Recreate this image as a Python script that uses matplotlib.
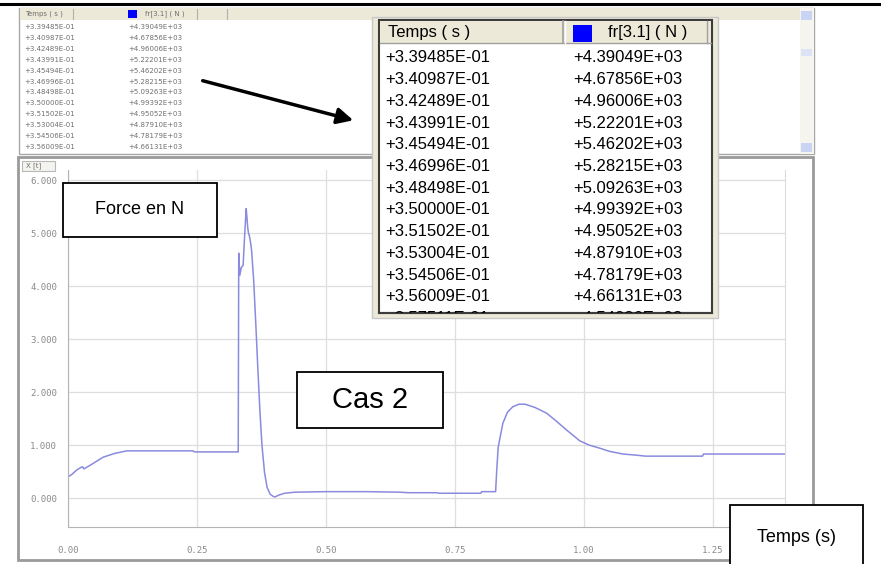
import matplotlib.pyplot as plt
from matplotlib.patches import Rectangle

temps = [0.000, 0.008, 0.017, 0.024, 0.028, 0.031, 0.045, 0.068, 0.090, 0.114,
         0.160, 0.242, 0.246, 0.329, 0.330, 0.331, 0.333, 0.336,
         0.3395, 0.3410, 0.3425, 0.3440, 0.3455, 0.3470, 0.3485, 0.3500,
         0.3515, 0.3530, 0.3545, 0.3560,
         0.360, 0.364, 0.368, 0.372, 0.376, 0.381, 0.386, 0.392, 0.398, 0.401,
         0.410, 0.420, 0.440, 0.500, 0.580, 0.643, 0.660, 0.715, 0.720, 0.800,
         0.802, 0.829, 0.831, 0.834, 0.843, 0.852, 0.862, 0.874, 0.886, 0.905,
         0.928, 0.948, 0.967, 0.992, 1.010, 1.031, 1.050, 1.076, 1.100, 1.120,
         1.230, 1.232, 1.390]
force = [0.40, 0.45, 0.53, 0.57, 0.59, 0.55, 0.63, 0.77, 0.84, 0.89,
         0.89, 0.89, 0.87, 0.87, 0.87, 4.62, 4.20, 4.35,
         4.390, 4.679, 4.960, 5.222, 5.462, 5.282, 5.093, 4.994,
         4.951, 4.879, 4.782, 4.661,
         4.10, 3.30, 2.45, 1.65, 1.00, 0.48, 0.20, 0.07, 0.03, 0.02,
         0.06, 0.09, 0.11, 0.12, 0.12, 0.11, 0.10, 0.10, 0.09, 0.09,
         0.12, 0.12, 0.50, 0.96, 1.41, 1.62, 1.72, 1.77, 1.77, 1.71,
         1.60, 1.44, 1.28, 1.08, 1.00, 0.94, 0.88, 0.83, 0.81, 0.79,
         0.79, 0.83, 0.83]

# tableau de valeurs affiche
table_temps = ["+3.39485E-01", "+3.40987E-01", "+3.42489E-01", "+3.43991E-01",
               "+3.45494E-01", "+3.46996E-01", "+3.48498E-01", "+3.50000E-01",
               "+3.51502E-01", "+3.53004E-01", "+3.54506E-01", "+3.56009E-01",
               "+3.57511E-01"]
table_force = ["+4.39049E+03", "+4.67856E+03", "+4.96006E+03", "+5.22201E+03",
               "+5.46202E+03", "+5.28215E+03", "+5.09263E+03", "+4.99392E+03",
               "+4.95052E+03", "+4.87910E+03", "+4.78179E+03", "+4.66131E+03",
               "+4.54086E+03"]
col_temps = "Temps ( s )"
col_force = "fr[3.1] ( N )"

xticks = [0.00, 0.25, 0.50, 0.75, 1.00, 1.25]
yticks = [0, 1, 2, 3, 4, 5, 6]

W, H = 881, 564
fig = plt.figure(figsize=(W / 100, H / 100), dpi=100)
fig.patch.set_facecolor("white")

def pix_axes(z):
    a = fig.add_axes([0, 0, 1, 1], zorder=z)
    a.set_xlim(0, W)
    a.set_ylim(H, 0)
    a.axis("off")
    a.patch.set_visible(False)
    return a

beige = "#ece9d8"
petit = dict(fontsize=5, color="#707070", va="center", family="DejaVu Sans")

# --- fond : les deux panneaux de la fenetre ---
bg = pix_axes(0)
bg.plot([0, W], [4, 4], color="black", lw=2.2)
# panneau tableau du haut
bg.add_patch(Rectangle((19, 8), 795, 146, facecolor="white", edgecolor="#a8a8a8", lw=1))
bg.add_patch(Rectangle((20, 8), 780, 12, facecolor=beige, edgecolor="none"))
for xs in [73, 197, 227]:
    bg.plot([xs, xs], [9, 19], color="#b0b0b0", lw=0.8)
bg.add_patch(Rectangle((128, 10), 9, 8, facecolor="#0000ff", edgecolor="none"))
bg.text(25, 14, col_temps, **petit)
bg.text(145, 14, col_force, **petit)
for i in range(12):
    yy = 27 + i * 10.9
    bg.text(24, yy, table_temps[i], **petit)
    bg.text(128, yy, table_force[i], **petit)
# ascenseur
bg.add_patch(Rectangle((800, 8), 14, 146, facecolor="#f5f4ee", edgecolor="none"))
bg.add_patch(Rectangle((801, 11), 11, 9, facecolor="#c9d3f3", edgecolor="none"))
bg.add_patch(Rectangle((801, 49), 11, 7, facecolor="#dde3f5", edgecolor="none"))
bg.add_patch(Rectangle((801, 143), 11, 9, facecolor="#c9d3f3", edgecolor="none"))
# panneau graphique
bg.add_patch(Rectangle((18, 157), 795, 403, facecolor="white", edgecolor="#9a9a9a", lw=2))
bg.add_patch(Rectangle((22, 161), 33, 10, facecolor="#f4f3ee", edgecolor="#b8b8b8", lw=0.8))
bg.text(26, 166, "X [t]", **petit)

# --- courbe ---
ax = fig.add_axes([68 / W, 1 - 527 / H, (785 - 68) / W, (527 - 170) / H], zorder=1)
ax.patch.set_visible(False)
ax.plot(temps, force, color="#8a8ade", lw=1.1)
ax.set_xlim(0, 1.39)
ax.set_ylim(-0.547, 6.19)
ax.set_xticks(xticks)
ax.set_yticks(yticks)
ax.set_xticklabels(["%.2f" % v for v in xticks])
ax.set_yticklabels(["%.3f" % v for v in yticks])
ax.grid(True, color="#dedede", lw=0.9)
ax.tick_params(length=0, labelsize=6.5, labelcolor="#8a8a8a")
ax.tick_params(axis="x", pad=14)
ax.tick_params(axis="y", pad=8)
for lab in ax.get_xticklabels() + ax.get_yticklabels():
    lab.set_family("DejaVu Sans Mono")
ax.spines["top"].set_visible(False)
ax.spines["right"].set_color("#dcdcdc")
ax.spines["left"].set_color("#b4b4b4")
ax.spines["bottom"].set_color("#b4b4b4")

# --- surcouche : tableau agrandi, fleche et etiquettes ---
fg = pix_axes(2)
fg.add_patch(Rectangle((372, 17), 346, 301, facecolor=beige, edgecolor="#c8c8c8", lw=1))
inner = Rectangle((379, 20), 333, 293, facecolor="white", edgecolor="#3c3c3c", lw=1.5)
fg.add_patch(inner)
fg.add_patch(Rectangle((380, 21), 331, 22, facecolor=beige, edgecolor="none"))
fg.plot([380, 711], [43, 43], color="#a0a0a0", lw=1)
fg.plot([563, 563], [21, 43], color="#a0a0a0", lw=1.2)
fg.plot([565, 565], [21, 43], color="white", lw=1)
fg.plot([707, 707], [21, 43], color="#a0a0a0", lw=1)
fg.text(388, 33, col_temps, fontsize=12, family="Liberation Sans", va="center")
fg.add_patch(Rectangle((573, 25), 19, 17, facecolor="#0000ff", edgecolor="none"))
fg.text(648, 33, col_force, fontsize=12, family="Liberation Sans", va="center", ha="center")
for i in range(len(table_temps)):
    yy = 58 + i * 21.7
    for x0, val in [(385, table_temps[i]), (573, table_force[i])]:
        t = fg.text(x0, yy, val, fontsize=12, family="Liberation Sans",
                    va="center", clip_on=True)
        t.set_clip_path(inner)
# bord bas redessine par-dessus la ligne coupee
fg.plot([379, 712], [313, 313], color="#3c3c3c", lw=1.5)

fg.annotate("", xy=(356, 121), xytext=(200, 80),
            arrowprops=dict(arrowstyle="-|>", color="black", lw=2.5, mutation_scale=24))

def boite(x0, y0, x1, y1, texte, taille):
    fg.add_patch(Rectangle((x0, y0), x1 - x0, y1 - y0, facecolor="white",
                           edgecolor="black", lw=1.3))
    fg.text((x0 + x1) / 2, (y0 + y1) / 2, texte, fontsize=taille,
            family="Liberation Sans", ha="center", va="center")

boite(63, 183, 217, 237, "Force en N", 13)
boite(297, 372, 443, 428, "Cas 2", 21)
boite(730, 505, 863, 570, "Temps (s)", 13)

fig.savefig("out.png", dpi=100)
